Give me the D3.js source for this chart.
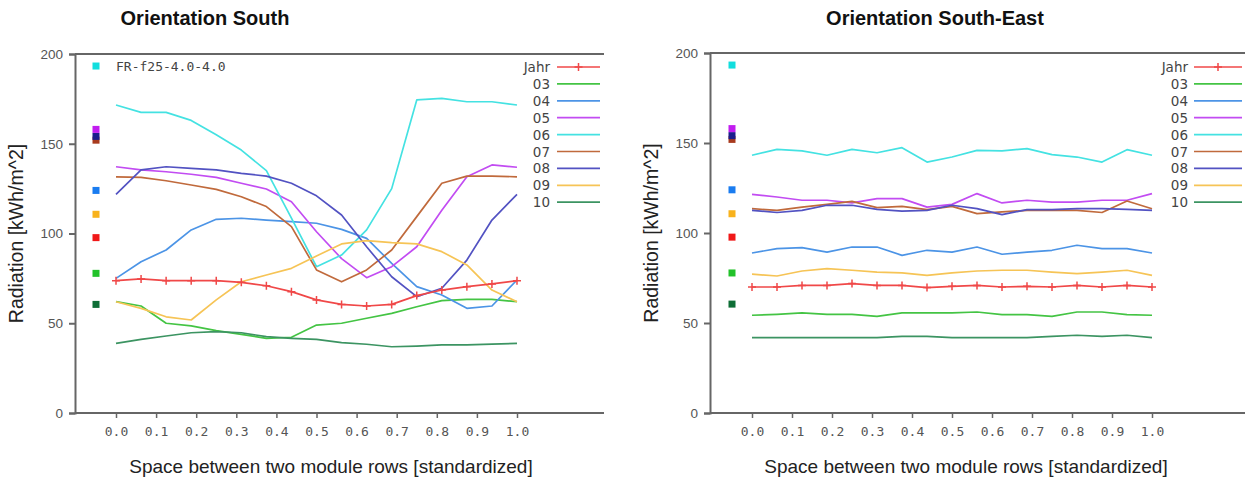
<!DOCTYPE html>
<html>
<head>
<meta charset="utf-8">
<script src="https://cdn.jsdelivr.net/npm/d3@7"></script>
<style>
  body { margin: 0; background: #fff; }
</style>
</head>
<body>
<div id="chart"></div>
<script>
const xValues = [0, 0.0625, 0.125, 0.1875, 0.25, 0.3125, 0.375, 0.4375, 0.5,
                 0.5625, 0.625, 0.6875, 0.75, 0.8125, 0.875, 0.9375, 1];
const seriesNames = ['Jahr', '03', '04', '05', '06', '07', '08', '09', '10'];
const xTicks = [0, 0.1, 0.2, 0.3, 0.4, 0.5, 0.6, 0.7, 0.8, 0.9, 1.0];
const yTicks = [0, 50, 100, 150, 200];

// Orientation South
const southJahr = [73.7, 74.7, 73.7, 73.7, 73.7, 72.8, 70.9, 67.6, 63, 60.5, 59.6, 60.5, 65.4, 68.5, 70.4, 71.9, 73.7];
const south03 = [62, 59.6, 50, 48.5, 45.9, 43.8, 41.6, 42.2, 49, 50, 52.8, 55.5, 59.2, 62.6, 63.3, 63.3, 62];
const south04 = [75, 84.3, 90.8, 102, 107.9, 108.5, 107.5, 106.6, 105.7, 102.3, 97.3, 83.4, 70.4, 65.7, 58.3, 59.6, 74.1];
const south05 = [137.2, 135.4, 134.4, 133, 131.3, 128, 124.8, 117.7, 101, 86, 75.4, 81.5, 92.6, 113, 131.6, 138.2, 136.9];
const south06 = [171.6, 167.5, 167.5, 163, 155, 146.5, 135, 108.6, 81.5, 88, 102, 125, 174.4, 175.3, 173.4, 173.4, 171.6];
const south07 = [131.6, 131.3, 129.4, 127, 124.6, 120.5, 115, 103.8, 79.7, 73.1, 79.7, 90.8, 109.4, 128, 132, 132, 131.6];
const south08 = [121.8, 135.4, 137.2, 136.3, 135.4, 133.5, 132, 128, 121, 110.3, 92.6, 75.9, 64.8, 69.5, 85.2, 107.5, 121.8];
const south09 = [62, 58.3, 53.6, 51.8, 63, 73.1, 76.9, 80.6, 87.5, 94.2, 96, 94.9, 94.2, 89.9, 82.5, 68.5, 62];
const south10 = [38.8, 41, 42.9, 44.7, 45.3, 44.7, 42.5, 41.6, 41, 39.2, 38.3, 36.9, 37.3, 37.9, 37.9, 38.4, 38.8];

// Orientation South-East
const seJahr = [70, 70, 70.9, 70.9, 71.9, 70.9, 70.9, 69.7, 70.4, 70.9, 70, 70.4, 70, 70.9, 70, 70.9, 70];
const se03 = [54.3, 54.8, 55.6, 54.8, 54.8, 53.7, 55.6, 55.6, 55.6, 56.1, 54.6, 54.6, 53.7, 56.1, 56.1, 54.6, 54.3];
const se04 = [88.9, 91.3, 91.9, 89.4, 92.2, 92.2, 87.6, 90.4, 89.4, 92.2, 88.2, 89.4, 90.4, 93.2, 91.3, 91.3, 88.9];
const se05 = [121.5, 120, 118.2, 118.2, 116.7, 119.1, 119.1, 114.4, 115.9, 121.9, 116.7, 118.2, 117.2, 117.2, 118.2, 118.2, 121.9];
const se06 = [143.2, 146.5, 145.6, 143.2, 146.5, 144.6, 147.4, 139.4, 142.2, 145.9, 145.6, 146.9, 143.5, 142.2, 139.4, 146.3, 143.2];
const se07 = [113.5, 112.6, 114.4, 115.9, 117.6, 114.1, 114.8, 113, 114.8, 110.8, 111.7, 112.6, 112.6, 112.6, 111.4, 117.8, 113.5];
const se08 = [112.6, 111.4, 112.6, 115.4, 115.4, 113.1, 112.2, 112.6, 115.4, 113.5, 110.2, 113, 113, 113.5, 113.5, 113.1, 112.6];
const se09 = [77.1, 76.1, 78.9, 80.2, 79.3, 78.3, 77.8, 76.5, 77.8, 78.9, 79.3, 79.3, 78.3, 77.4, 78.3, 79.3, 76.5];
const se10 = [41.9, 41.9, 41.9, 41.9, 41.9, 41.9, 42.6, 42.6, 41.9, 41.9, 41.9, 41.9, 42.6, 43.2, 42.6, 43.2, 41.9];

// reference squares at the left of each plot
const refValues = [193.3, 152, 154.1, 158, 124, 110.7, 97.7, 77.8, 60.5];
const refColors = ['#12dede', '#a83a1e', '#1c1c8c', '#c21cf0', '#1a7cf0', '#f8b21c', '#f01818', '#22c22a', '#0e6e36'];

const lineColors = ['#f04848', '#44c444', '#4c94e6', '#c24cf2', '#44e2e2', '#c06a3c', '#5252c2', '#f6c456', '#3c9462'];

const W = 1255, H = 480;
const svg = d3.select('#chart').append('svg')
    .attr('width', W)
    .attr('height', H)
    .style('font-family', 'DejaVu Sans, Verdana, sans-serif');

const panels = [
  { title: 'Orientation South', left: 75, x0: 116, x1: 517, right: 604, top: 54, bottom: 413,
    legendX: 550, legendLine: [557, 600], label: 'FR-f25-4.0-4.0', sqX: 96, titleX: 205, xTitleX: 331,
    data: [southJahr, south03, south04, south05, south06, south07, south08, south09, south10] },
  { title: 'Orientation South-East', left: 710, x0: 752, x1: 1152, right: 1245, top: 53, bottom: 413,
    legendX: 1188, legendLine: [1194, 1242], label: null, sqX: 732, titleX: 935, xTitleX: 966,
    data: [seJahr, se03, se04, se05, se06, se07, se08, se09, se10] }
];

panels.forEach(p => {
  const x = d3.scaleLinear().domain([0, 1]).range([p.x0, p.x1]);
  const y = d3.scaleLinear().domain([0, 200]).range([p.bottom, p.top]);
  const g = svg.append('g');

  // title
  svg.append('text')
      .attr('x', p.titleX).attr('y', 25)
      .attr('text-anchor', 'middle')
      .style('font-family', 'Liberation Sans, Arial, sans-serif')
      .style('font-weight', 'bold')
      .style('font-size', '20px')
      .style('fill', '#111')
      .text(p.title);

  // frame: top line
  g.append('line')
      .attr('x1', p.left).attr('x2', p.right)
      .attr('y1', p.top).attr('y2', p.top)
      .style('stroke', '#666').style('stroke-width', 2);

  // y axis
  const yAxis = g.append('g')
      .attr('transform', 'translate(' + p.left + ',0)')
      .call(d3.axisLeft(y).tickValues(yTicks).tickSize(6).tickPadding(6));
  yAxis.select('.domain').style('stroke', '#666').style('stroke-width', 2);
  yAxis.selectAll('.tick line').style('stroke', '#666').style('stroke-width', 2);
  yAxis.selectAll('.tick text')
      .style('font-size', '13.5px')
      .style('fill', '#555');

  // x axis
  const xAxis = g.append('g')
      .attr('transform', 'translate(0,' + p.bottom + ')')
      .call(d3.axisBottom(x).tickValues(xTicks).tickSize(5).tickPadding(9).tickFormat(d3.format('.1f')));
  xAxis.select('.domain').attr('d', 'M' + p.left + ',0H' + p.right)
      .style('stroke', '#666').style('stroke-width', 2);
  xAxis.selectAll('.tick line').style('stroke', '#666').style('stroke-width', 1.5);
  xAxis.selectAll('.tick text')
      .style('font-family', 'DejaVu Sans Mono, monospace')
      .style('font-size', '13px')
      .style('fill', '#555');

  // axis titles
  svg.append('text')
      .attr('transform', 'translate(' + (p.left - 52) + ',' + ((p.top + p.bottom) / 2) + ') rotate(-90)')
      .attr('text-anchor', 'middle')
      .style('font-family', 'Liberation Sans, Arial, sans-serif')
      .style('font-size', '19.5px')
      .style('fill', '#222')
      .text('Radiation [kWh/m^2]');

  svg.append('text')
      .attr('x', p.xTitleX).attr('y', 473)
      .attr('text-anchor', 'middle')
      .style('font-family', 'Liberation Sans, Arial, sans-serif')
      .style('font-size', '19px')
      .style('fill', '#222')
      .text('Space between two module rows [standardized]');

  // reference squares
  g.selectAll('rect.ref')
      .data(refValues)
    .enter().append('rect')
      .attr('class', 'ref')
      .attr('x', p.sqX - 3.5)
      .attr('y', d => y(d) - 3.5)
      .attr('width', 7).attr('height', 7)
      .style('fill', (d, i) => refColors[i]);

  if (p.label) {
    g.append('text')
        .attr('x', p.x0).attr('y', y(193.3) + 5)
        .style('font-family', 'DejaVu Sans Mono, monospace')
        .style('font-size', '13px')
        .style('fill', '#444')
        .text(p.label);
  }

  // lines
  const line = d3.line()
      .x((d, i) => x(xValues[i]))
      .y(d => y(d));

  const order = [1, 2, 3, 4, 5, 6, 7, 8, 0];
  order.forEach(k => {
    g.append('path')
        .datum(p.data[k])
        .attr('d', line)
        .style('fill', 'none')
        .style('stroke', lineColors[k])
        .style('stroke-width', 1.7)
        .style('stroke-linejoin', 'round');
  });

  // Jahr markers
  g.selectAll('path.mark')
      .data(p.data[0])
    .enter().append('path')
      .attr('class', 'mark')
      .attr('d', (d, i) => {
        const cx = x(xValues[i]), cy = y(d);
        return 'M' + (cx - 4) + ',' + cy + 'H' + (cx + 4) + 'M' + cx + ',' + (cy - 4) + 'V' + (cy + 4);
      })
      .style('stroke', lineColors[0])
      .style('stroke-width', 1.5);

  // legend
  const leg = g.selectAll('g.leg')
      .data(seriesNames)
    .enter().append('g')
      .attr('class', 'leg')
      .attr('transform', (d, i) => 'translate(0,' + (67 + i * 16.9) + ')');
  leg.append('text')
      .attr('x', p.legendX).attr('y', 5)
      .attr('text-anchor', 'end')
      .style('font-size', '13.5px')
      .style('fill', '#444')
      .text(d => d);
  leg.append('line')
      .attr('x1', p.legendLine[0]).attr('x2', p.legendLine[1])
      .style('stroke', (d, i) => lineColors[i])
      .style('stroke-width', 1.7);
  const mx = (p.legendLine[0] + p.legendLine[1]) / 2;
  g.append('path')
      .attr('d', 'M' + (mx - 4) + ',67H' + (mx + 4) + 'M' + mx + ',63V71')
      .style('stroke', lineColors[0])
      .style('stroke-width', 1.5);
});
</script>
</body>
</html>
